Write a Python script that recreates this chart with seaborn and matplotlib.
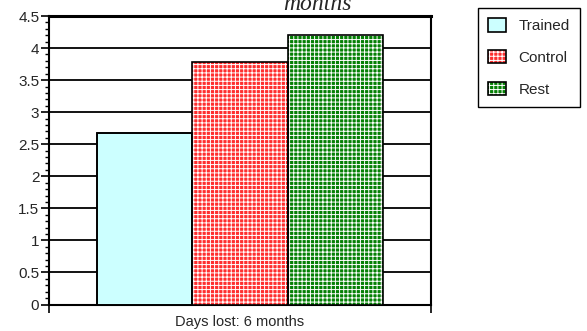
import numpy as np
import pandas as pd
import matplotlib
matplotlib.use("Agg")
import matplotlib.pyplot as plt
from matplotlib.patches import Patch, Rectangle
from matplotlib.legend_handler import HandlerTuple
from matplotlib.ticker import MultipleLocator
import seaborn as sns

# ---- data ----
period = ["Days lost: 6 months"]
groups = ["Trained", "Control", "Rest"]
days_lost = [2.68, 3.78, 4.21]
title_fragment = "months"

face_colors = ["#ccffff", "#ff2e2e", "#058005"]
hatches = [None, "++++", "++++"]

sns.set_theme(style="white")
plt.rcParams["font.family"] = ["Liberation Sans", "DejaVu Sans"]
plt.rcParams["hatch.linewidth"] = 0.7

df = pd.DataFrame({
    "period": period * len(groups),
    "group": groups,
    "days": days_lost,
})

W, H = 587, 331
fig = plt.figure(figsize=(W / 100, H / 100), dpi=100)
ax = fig.add_axes([49 / W, 1 - 304.5 / H, (431 - 49) / W, (304.5 - 16) / H])

sns.barplot(data=df, x="period", y="days", hue="group", hue_order=groups,
            palette=face_colors, width=0.75, saturation=1, legend=False,
            errorbar=None, ax=ax, zorder=3)

ax.set_xlim(-0.5, 0.5)
ax.set_ylim(0, 4.5)

# style bars: hatched bars get white hatch, then a black outline overlay
bars = [p for p in ax.patches if isinstance(p, Rectangle)]
bars = sorted(bars, key=lambda p: p.get_x())
for p, fc, h in zip(bars, face_colors, hatches):
    p.set_facecolor(fc)
    if h:
        p.set_hatch(h)
        p.set_edgecolor("white")
        p.set_linewidth(0)
    else:
        p.set_edgecolor("black")
        p.set_linewidth(1.2)
    ax.add_patch(Rectangle(p.get_xy(), p.get_width(), p.get_height(),
                           fill=False, edgecolor="black", linewidth=1.2,
                           zorder=4))

# grid and ticks
ax.yaxis.set_major_locator(MultipleLocator(0.5))
ax.yaxis.set_minor_locator(MultipleLocator(0.1))
ax.yaxis.set_major_formatter(matplotlib.ticker.FuncFormatter(
    lambda v, pos: f"{v:g}"))
ax.grid(axis="y", which="major", color="black", linewidth=1.3, zorder=0)
ax.grid(axis="x", visible=False)
ax.set_axisbelow(True)
ax.tick_params(axis="y", which="major", direction="out", length=6,
               width=1.2, color="black", labelsize=11, pad=1, left=True)
ax.tick_params(axis="y", which="minor", direction="out", length=3,
               width=1.0, color="black", left=True)
xl = ax.get_xlim()
ax.set_xticks([xl[0], xl[1]])
ax.set_xticklabels(["", ""])
ax.tick_params(axis="x", which="major", direction="out", length=6,
               width=1.2, color="black", bottom=True)
ax.set_xlabel(period[0], fontsize=10.5)
ax.xaxis.set_label_coords(0.5, -10.5 / 288.5)
ax.set_ylabel("")
for s in ax.spines.values():
    s.set_visible(True)
    s.set_color("black")
    s.set_linewidth(1.5)
ax.spines["top"].set_linewidth(2.2)

# legend
handles = []
for fc, h in zip(face_colors, hatches):
    if h:
        handles.append((Patch(facecolor=fc, hatch=h, edgecolor="white", linewidth=0),
                        Patch(fill=False, edgecolor="black", linewidth=1.2)))
    else:
        handles.append(Patch(facecolor=fc, edgecolor="black", linewidth=1.2))
leg = fig.legend(handles, groups, loc="upper left",
                 bbox_to_anchor=(478 / W, 1 - 8 / H), borderaxespad=0,
                 fancybox=False, shadow=False, framealpha=1, edgecolor="black",
                 fontsize=11, handlelength=1.15, handleheight=1.0,
                 handletextpad=0.85, labelspacing=1.1, borderpad=0.65,
                 handler_map={tuple: HandlerTuple(ndivide=1, pad=0)})
leg.get_frame().set_linewidth(1.0)

# clipped title fragment
fig.text(317 / W, 1 - 10.5 / H, title_fragment, ha="center", va="baseline",
         fontsize=17, style="italic", family=["Liberation Serif", "DejaVu Serif"])

fig.savefig("out.png", dpi=100)
